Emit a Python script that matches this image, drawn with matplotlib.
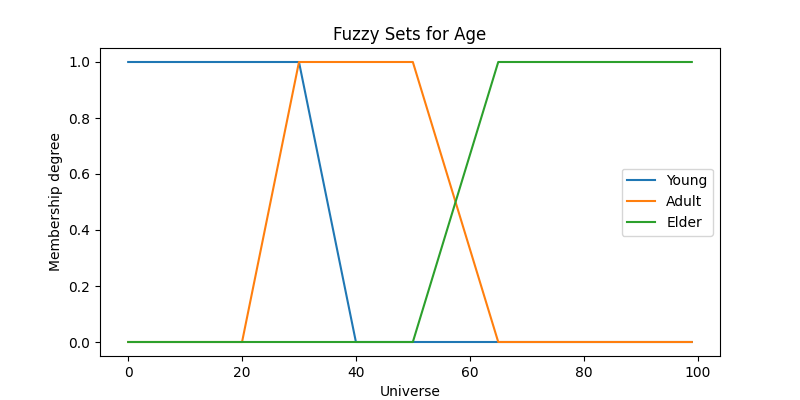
import matplotlib
matplotlib.use("Agg")
import matplotlib.pyplot as plt

# breakpoints of each membership function (universe 0..99)
young_x = [0, 30, 40, 99]
young_y = [1, 1, 0, 0]
adult_x = [0, 20, 30, 50, 65, 99]
adult_y = [0, 0, 1, 1, 0, 0]
elder_x = [0, 50, 65, 99]
elder_y = [0, 0, 1, 1]

fig, ax = plt.subplots(figsize=(8, 4), dpi=100)
ax.plot(young_x, young_y, label="Young")
ax.plot(adult_x, adult_y, label="Adult")
ax.plot(elder_x, elder_y, label="Elder")
ax.set_title("Fuzzy Sets for Age")
ax.set_xlabel("Universe")
ax.set_ylabel("Membership degree")
ax.legend(loc="center right")
fig.savefig("out.png")
